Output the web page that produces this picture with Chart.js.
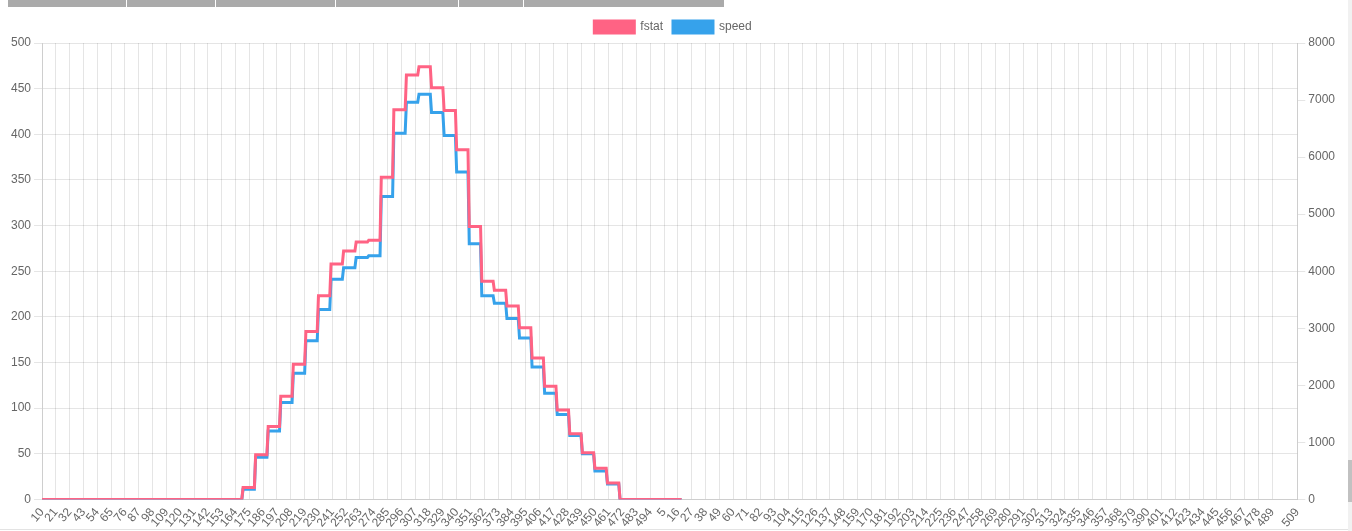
<!DOCTYPE html>
<html>
<head>
<meta charset="utf-8">
<script src="https://cdn.jsdelivr.net/npm/chart.js@4/dist/chart.umd.min.js"></script>
<style>
  body { margin: 0; background: #fff; overflow: hidden; }
  .topbar { position: absolute; left: 8px; top: 0; width: 716px; height: 7px; background: #aaa; }
  .topbar span { position: absolute; top: 0; width: 1px; height: 7px; background: #fff; }
  .wrap { position: absolute; left: 0; top: 11px; width: 1338px; height: 525px; }
  .scroll { position: absolute; right: 0; top: 0; width: 4px; height: 531px; background: #f1f1f1; }
  .scroll div { position: absolute; left: 0; top: 460px; width: 4px; height: 42px; background: #c1c1c1; }
  .bottomline { position: absolute; left: 0; bottom: 1px; width: 1348px; height: 1px; background: #e3e3e3; }
</style>
</head>
<body>
<div class="topbar">
  <span style="left:118px"></span><span style="left:207px"></span><span style="left:327px"></span>
  <span style="left:450px"></span><span style="left:515px"></span>
</div>
<div class="wrap"><canvas id="myChart"></canvas></div>
<div class="bottomline"></div>
<div class="scroll"><div></div></div>
<script>
// x categories: two runs of ids
const labelRuns = [[10, 499], [0, 509]];
const labels = [];
labelRuns.forEach(r => { for (let v = r[0]; v <= r[1]; v++) labels.push(String(v)); });

// values are held for 10 samples each; 51 blocks, blocks 16..45 non-zero
const stepLen = 10;
const fstatSteps = [0,0,0,0,0,0,0,0,0,0,0,0,0,0,0,0,
    13, 49, 80, 113, 148, 184, 223, 258, 272, 282, 284, 353, 427, 465, 474,
    451, 426, 383, 299, 239, 229, 212, 188, 155, 124, 98, 72, 51, 34, 18,
    0,0,0,0,0];
const speedSteps = [0,0,0,0,0,0,0,0,0,0,0,0,0,0,0,0,
    180, 740, 1200, 1700, 2210, 2780, 3330, 3860, 4060, 4240, 4270, 5310, 6420, 6960, 7100,
    6780, 6380, 5740, 4480, 3570, 3440, 3170, 2830, 2320, 1860, 1490, 1120, 800, 500, 270,
    0,0,0,0,0];

function expand(steps) {
    const out = [];
    steps.forEach(v => { for (let k = 0; k < stepLen; k++) out.push(v); });
    return out;
}
const fstat = expand(fstatSteps);
const speed = expand(speedSteps);

const tickEvery = 11;
const lastIdx = labels.length - 1;
function shown(i) { return (i % tickEvery === 0 && i < lastIdx - tickEvery + 1) || i === lastIdx; }

const ctx = document.getElementById("myChart").getContext("2d");
new Chart(ctx, {
    type: 'line',
    data: {
        labels: labels,
        datasets: [
            {
                label: 'fstat',
                data: fstat,
                yAxisID: 'y',
                borderColor: 'rgb(255,99,132)',
                backgroundColor: 'rgb(255,99,132)',
                borderWidth: 3,
                pointRadius: 0,
                tension: 0,
                fill: false
            },
            {
                label: 'speed',
                data: speed,
                yAxisID: 'y1',
                borderColor: 'rgb(54,162,235)',
                backgroundColor: 'rgb(54,162,235)',
                borderWidth: 3,
                pointRadius: 0,
                tension: 0,
                fill: false
            }
        ]
    },
    options: {
        responsive: true,
        maintainAspectRatio: false,
        animation: false,
        layout: { padding: { left: 8, right: 0, top: 0, bottom: 0 } },
        plugins: {
            legend: { labels: { color: '#666', boxWidth: 40, font: { size: 12 } } },
            tooltip: { enabled: false }
        },
        scales: {
            x: {
                ticks: {
                    autoSkip: false,
                    minRotation: 50,
                    maxRotation: 50,
                    padding: 6,
                    color: '#666',
                    callback: function (v, i) { return shown(i) ? labels[i] : ''; }
                },
                grid: {
                    drawTicks: false,
                    color: c => shown(c.index) ? 'rgba(0,0,0,0.1)' : 'rgba(0,0,0,0)'
                }
            },
            y: {
                position: 'left',
                min: 0, max: 500,
                ticks: { stepSize: 50, color: '#666' },
                grid: { color: 'rgba(0,0,0,0.1)' }
            },
            y1: {
                position: 'right',
                min: 0, max: 8000,
                ticks: { stepSize: 1000, color: '#666', callback: v => String(v) },
                grid: { drawOnChartArea: false, color: 'rgba(0,0,0,0.1)' }
            }
        }
    }
});
</script>
</body>
</html>
